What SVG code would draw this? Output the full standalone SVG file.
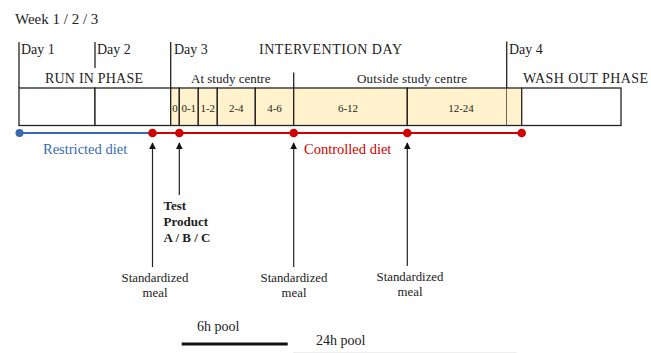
<svg xmlns="http://www.w3.org/2000/svg" width="651" height="353" viewBox="0 0 651 353">
<style>
text{font-family:"Liberation Serif","Times New Roman",serif;fill:#222}
.h{font-size:14px}
.s{font-size:13px}
.p{font-size:14px}
.c{font-size:11px}
.m{font-size:12.8px}
.b{font-size:13px;font-weight:bold}
.ln{stroke:#222;stroke-width:1.3;fill:none}
.cell{stroke:#222;stroke-width:1.3}
.y{fill:#FFF2CC}
.w{fill:#fff}
.arr{stroke:#222;stroke-width:1.2;fill:none;marker-end:url(#ah)}
.rd{fill:#D00000}
</style>
<defs>
<marker id="ah" viewBox="0 0 10 10" refX="9" refY="5" markerWidth="7" markerHeight="7" markerUnits="userSpaceOnUse" orient="auto">
<path d="M0,0 L10,5 L0,10 z" fill="#111"/>
</marker>
</defs>
<rect width="651" height="353" fill="#fff"/>

<g id="header">
<text x="15" y="24" style="font-size:15px">Week 1 / 2 / 3</text>
<line class="ln" x1="19" y1="42" x2="19" y2="88"/>
<line class="ln" x1="95" y1="42" x2="95" y2="68"/>
<line class="ln" x1="170.7" y1="42" x2="170.7" y2="88"/>
<line class="ln" x1="293.7" y1="72.5" x2="293.7" y2="88"/>
<line class="ln" x1="506.7" y1="41.5" x2="506.7" y2="88"/>
<text class="h" x="21" y="54">Day 1</text>
<text class="h" x="97" y="54">Day 2</text>
<text class="h" x="174" y="54">Day 3</text>
<text class="h" x="259" y="54" textLength="143">INTERVENTION DAY</text>
<text class="h" x="509" y="54">Day 4</text>
<text class="h" x="45" y="83" textLength="98">RUN IN PHASE</text>
<text class="s" x="191" y="83">At study centre</text>
<text class="s" x="357" y="83" textLength="110">Outside study centre</text>
<text class="h" x="523" y="83" textLength="125">WASH OUT PHASE</text>
</g>

<g id="cells">
<rect class="cell w" x="19" y="88" width="76" height="37.5"/>
<rect class="cell w" x="95" y="88" width="75.7" height="37.5"/>
<rect class="cell y" x="170.7" y="88" width="8.6" height="37.5"/>
<rect class="cell y" x="179.3" y="88" width="19" height="37.5"/>
<rect class="cell y" x="198.3" y="88" width="19" height="37.5"/>
<rect class="cell y" x="217.3" y="88" width="38" height="37.5"/>
<rect class="cell y" x="255.3" y="88" width="38.4" height="37.5"/>
<rect class="cell y" x="293.7" y="88" width="113.6" height="37.5"/>
<rect class="cell y" x="407.3" y="88" width="99.4" height="37.5"/>
<rect class="y" x="506.7" y="88" width="15" height="37.5" stroke="none"/>
<line class="ln" x1="506.7" y1="88" x2="521.7" y2="88"/>
<line class="ln" x1="506.7" y1="125.5" x2="521.7" y2="125.5"/>
<rect class="cell w" x="521.7" y="88" width="99.3" height="37.5"/>
<text class="c" x="175" y="112" text-anchor="middle">0</text>
<text class="c" x="188.8" y="112" text-anchor="middle">0-1</text>
<text class="c" x="207.8" y="112" text-anchor="middle">1-2</text>
<text class="c" x="236.3" y="112" text-anchor="middle">2-4</text>
<text class="c" x="274.5" y="112" text-anchor="middle">4-6</text>
<text class="c" x="348" y="112" text-anchor="middle">6-12</text>
<text class="c" x="461" y="112" text-anchor="middle">12-24</text>
</g>

<g id="timeline">
<line x1="19" y1="133" x2="152.5" y2="133" stroke="#3A68B4" stroke-width="2"/>
<line x1="152.5" y1="133" x2="521.7" y2="133" stroke="#D00000" stroke-width="2"/>
<circle cx="19.5" cy="133" r="4" fill="#3A68B4"/>
<circle class="rd" cx="152.5" cy="133" r="4.3"/>
<circle class="rd" cx="179.3" cy="133" r="4.3"/>
<circle class="rd" cx="293.7" cy="133" r="4.3"/>
<circle class="rd" cx="407.3" cy="133" r="4.3"/>
<circle class="rd" cx="521.7" cy="133" r="4.3"/>
<text x="43" y="154" style="font-size:14.5px;fill:#3A68B4">Restricted diet</text>
<text x="304" y="154" style="font-size:14.5px;fill:#D00000">Controlled diet</text>
</g>

<g id="connectors">
<line class="arr" x1="152.5" y1="267" x2="152.5" y2="143"/>
<line class="arr" x1="179.3" y1="195" x2="179.3" y2="143"/>
<line class="arr" x1="293.7" y1="267" x2="293.7" y2="143"/>
<line class="arr" x1="407.3" y1="266" x2="407.3" y2="143"/>
</g>

<g id="test-product">
<text class="b" x="163.5" y="210">Test</text>
<text class="b" x="163.5" y="226">Product</text>
<text class="b" x="163.5" y="242">A / B / C</text>
</g>

<g id="meal1">
<text class="m" x="155" y="282" text-anchor="middle">Standardized</text>
<text class="m" x="155" y="297" text-anchor="middle">meal</text>
</g>
<g id="meal2">
<text class="m" x="294" y="282" text-anchor="middle">Standardized</text>
<text class="m" x="294" y="297" text-anchor="middle">meal</text>
</g>
<g id="meal3">
<text class="m" x="410" y="281" text-anchor="middle">Standardized</text>
<text class="m" x="410" y="296" text-anchor="middle">meal</text>
</g>

<g id="pools">
<text class="p" x="197" y="331">6h pool</text>
<line x1="181.7" y1="344" x2="287.7" y2="344" stroke="#111" stroke-width="3"/>
<text class="p" x="316" y="345">24h pool</text>
<line x1="293" y1="352.5" x2="516.7" y2="352.5" stroke="#eeeeee" stroke-width="1"/>
</g>
</svg>
